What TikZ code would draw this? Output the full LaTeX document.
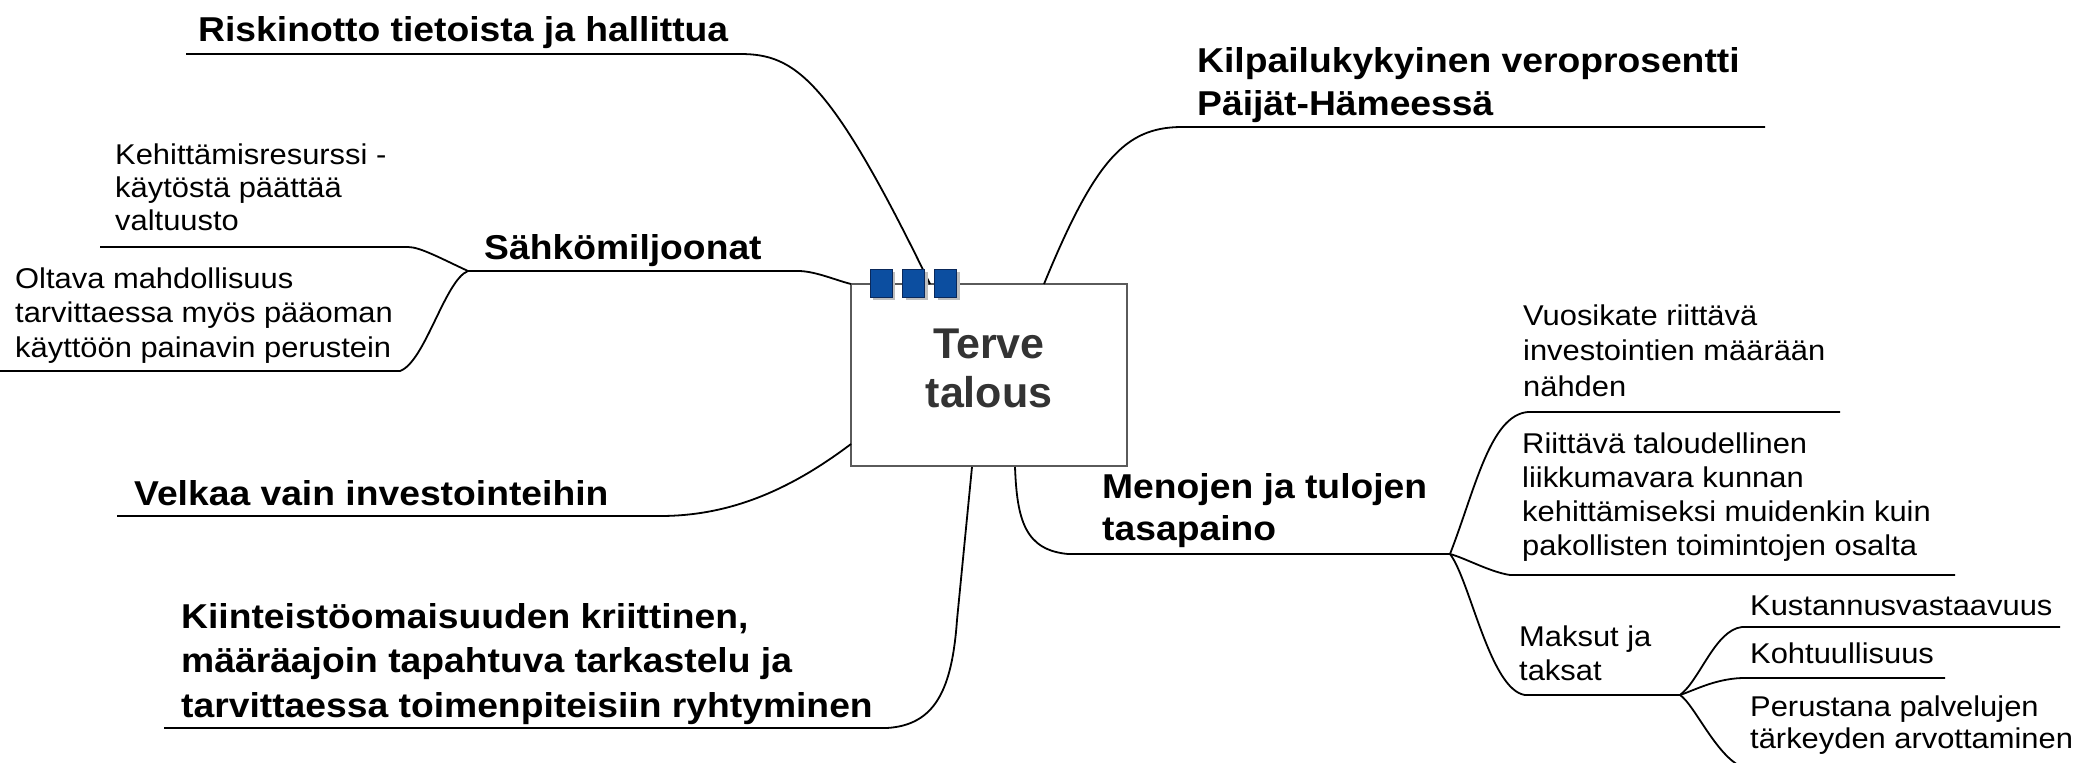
\documentclass[tikz,border=0pt]{standalone}
\usepackage{fontspec}
\setmainfont{Liberation Sans}[FakeStretch=1.08]
\newfontfamily\titlefont{Liberation Sans}
\usetikzlibrary{shadows}
\definecolor{tabblue}{RGB}{12,78,160}
\definecolor{tabedge}{RGB}{10,40,90}
\definecolor{boxedge}{RGB}{90,90,90}
\definecolor{titlegray}{RGB}{51,51,51}
\definecolor{shadowgray}{RGB}{190,190,190}
\begin{document}
\begin{tikzpicture}[x=1pt,y=-1pt,
  conn/.style={draw=black,line width=1.8pt,line join=round},
  biglabel/.style={anchor=base west,inner sep=0pt,align=left,font=\fontsize{34.5}{43}\selectfont\bfseries},
  smalllabel/.style={anchor=base west,inner sep=0pt,align=left,font=\fontsize{28.6}{34}\selectfont},
  tab/.style={draw=tabedge,fill=tabblue,line width=1pt,minimum width=22pt,minimum height=28pt,inner sep=0pt,
     drop shadow={shadow xshift=3pt,shadow yshift=-3pt,fill=shadowgray,opacity=1}},
  centralbox/.style={draw=boxedge,fill=white,line width=1.5pt,minimum width=276pt,minimum height=182pt,inner sep=0pt}
]
\clip (0,0) rectangle (2073,763);
\fill[white] (0,0) rectangle (2073,763);

% central box
\node[centralbox] (box) at (989,375) {};

% coordinates of underline ends and attachment points
\coordinate (bRisk) at (930,284);
\coordinate (bKil) at (1044,284);
\coordinate (bSah) at (851,284);
\coordinate (bVel) at (851,444);
\coordinate (bKii) at (972,467);
\coordinate (bMen) at (1015,467);

\coordinate (rkL) at (186,54);   \coordinate (rkR) at (740,54);
\coordinate (kpL) at (1180,127); \coordinate (kpR) at (1765,127);
\coordinate (khL) at (100,247);  \coordinate (khR) at (408,247);
\coordinate (shL) at (468,271);  \coordinate (shR) at (798,271);
\coordinate (olL) at (0,371);    \coordinate (olR) at (400,371);
\coordinate (vkL) at (117,516);  \coordinate (vkR) at (660,516);
\coordinate (kiL) at (164,728);  \coordinate (kiR) at (887,728);
\coordinate (mjL) at (1068,554); \coordinate (mjR) at (1450,554);
\coordinate (vuL) at (1528,412); \coordinate (vuR) at (1840,412);
\coordinate (riL) at (1510,575); \coordinate (riR) at (1955,575);
\coordinate (maL) at (1525,695); \coordinate (maR) at (1680,695);
\coordinate (kuL) at (1742,627); \coordinate (kuR) at (2060,627);
\coordinate (koL) at (1742,678); \coordinate (koR) at (1945,678);
\coordinate (peL) at (1745,768); \coordinate (peR) at (2060,768);

% labels (anchor = baseline of the last line)
\node[biglabel] (risk) at (198,41) {Riskinotto tietoista ja hallittua};
\node[biglabel] (kil) at (1197,115) {Kilpailukykyinen veroprosentti\\Päijät-Hämeessä};
\node[smalllabel,font=\fontsize{28.6}{33}\selectfont] (keh) at (115,230) {Kehittämisresurssi -\\käytöstä päättää\\valtuusto};
\node[biglabel] (sah) at (484,259) {Sähkömiljoonat};
\node[smalllabel,font=\fontsize{28.6}{34.5}\selectfont] (olt) at (15,357) {Oltava mahdollisuus\\tarvittaessa myös pääoman\\käyttöön painavin perustein};
\node[biglabel] (vel) at (134,505) {Velkaa vain investointeihin};
\node[biglabel,font=\fontsize{34.5}{44.5}\selectfont\bfseries] (kii) at (181,717) {Kiinteistöomaisuuden kriittinen,\\määräajoin tapahtuva tarkastelu ja\\tarvittaessa toimenpiteisiin ryhtyminen};
\node[biglabel,font=\fontsize{34.5}{42}\selectfont\bfseries] (men) at (1102,540) {Menojen ja tulojen\\tasapaino};
\node[smalllabel,font=\fontsize{28.6}{35.5}\selectfont] (vuo) at (1523,396) {Vuosikate riittävä\\investointien määrään\\nähden};
\node[smalllabel] (rii) at (1522,555) {Riittävä taloudellinen\\liikkumavara kunnan\\kehittämiseksi muidenkin kuin\\pakollisten toimintojen osalta};
\node[smalllabel,font=\fontsize{28.6}{33.3}\selectfont] (mak) at (1519,680) {Maksut ja\\taksat};
\node[smalllabel] (kus) at (1750,615) {Kustannusvastaavuus};
\node[smalllabel] (koh) at (1750,663) {Kohtuullisuus};
\node[smalllabel,font=\fontsize{28.6}{31.5}\selectfont] (per) at (1750,748) {Perustana palvelujen\\tärkeyden arvottaminen};

% title text
\node[anchor=base,inner sep=0pt,align=center,text=titlegray,
      font=\titlefont\fontsize{43}{49}\selectfont\bfseries] (title) at (989,407) {Terve\\talous};

% connectors
\draw[conn] (rkL) -- (rkR) .. controls (795,54) and (830,78) .. (bRisk);
\draw[conn] (kpR) -- (kpL) .. controls (1125,128) and (1095,160) .. (bKil);
\draw[conn] (khL) -- (khR) .. controls (420,247) and (440,258) .. (shL);
\draw[conn] (olL) -- (olR) .. controls (425,362) and (445,280) .. (shL);
\draw[conn] (shL) -- (shR) .. controls (815,271) and (835,280) .. (bSah);
\draw[conn] (vkL) -- (vkR) .. controls (730,516) and (790,490) .. (bVel);
\draw[conn] (kiL) -- (kiR) .. controls (935,725) and (952,690) .. (957,620) -- (bKii);
\draw[conn] (bMen) .. controls (1017,520) and (1025,550) .. (mjL) -- (mjR);
\draw[conn] (mjR) .. controls (1475,490) and (1490,415) .. (vuL) -- (vuR);
\draw[conn] (mjR) .. controls (1465,558) and (1490,572) .. (riL) -- (riR);
\draw[conn] (mjR) .. controls (1470,580) and (1490,690) .. (maL) -- (maR);
\draw[conn] (maR) .. controls (1700,680) and (1715,630) .. (kuL) -- (kuR);
\draw[conn] (maR) .. controls (1695,690) and (1715,679) .. (koL) -- (koR);
\draw[conn] (maR) .. controls (1695,705) and (1718,760) .. (peL) -- (peR);

% tabs on top of the box
\node[tab] (tab1) at (881,283) {};
\node[tab] (tab2) at (913.5,283) {};
\node[tab] (tab3) at (945.5,283) {};
\end{tikzpicture}
\end{document}
